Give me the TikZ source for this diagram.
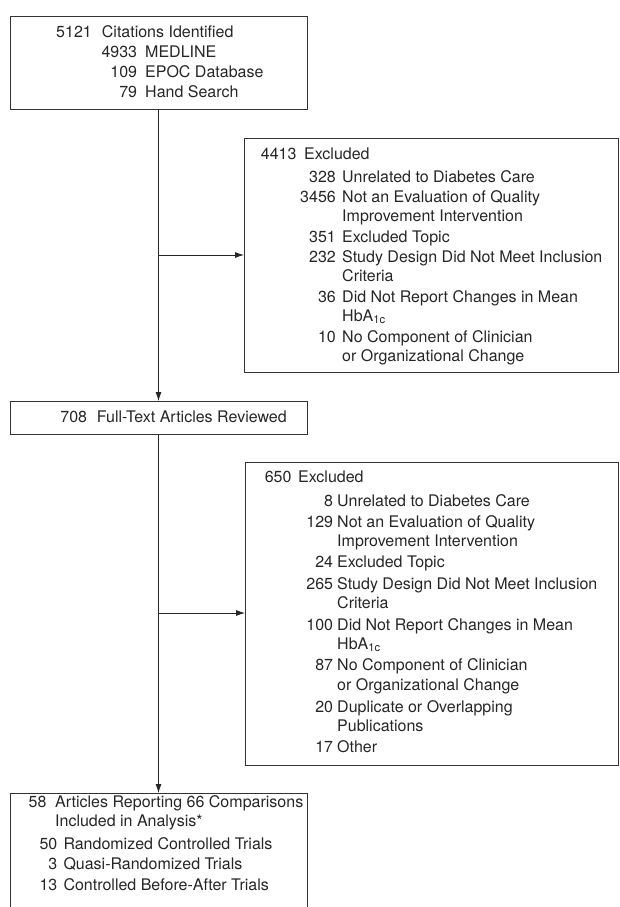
\documentclass[tikz,border=0pt]{standalone}
\usepackage{fontspec}
\setmainfont{TeX Gyre Heros}
\usetikzlibrary{arrows.meta}
\begin{document}
\begin{tikzpicture}[x=1pt,y=-1pt,
  box/.style={draw=black!80, line width=0.8pt, anchor=north west, inner sep=0pt, outer sep=0pt},
  num/.style={anchor=base east, inner sep=0pt, font=\fontsize{16}{18}\selectfont, text=black!85},
  txt/.style={anchor=base west, inner sep=0pt, font=\fontsize{16}{18}\selectfont, text=black!85},
  conn/.style={draw=black!85, line width=0.8pt},
  arr/.style={conn, -{Latex[length=9pt,width=6pt]}}]
\useasboundingbox (0,0) rectangle (619,907);
\clip (0,0) rectangle (619,907);
% boxes
\node[box, minimum width=297pt, minimum height=93pt] (b1) at (10,16) {};
\node[box, minimum width=374pt, minimum height=234pt] (e1) at (244,138) {};
\node[box, minimum width=297pt, minimum height=33pt] (b2) at (10,401) {};
\node[box, minimum width=373pt, minimum height=303pt] (e2) at (245,462) {};
\node[box, minimum width=297pt, minimum height=150pt] (b3) at (10,793) {};
% connectors
\coordinate (j1) at (158.5,255);
\coordinate (j2) at (158.5,613);
\draw[arr] (b1.south) -- (b2.north);
\draw[arr] (j1) -- (j1 -| e1.west);
\draw[arr] (b2.south) -- (b3.north);
\draw[arr] (j2) -- (j2 -| e2.west);
% box 1 text
\node[num] (n11) at (92,37.5) {5121};
\node[txt] (t11) at (101.7,37.5) {Citations Identified};
\node[num] (n12) at (137.3,57.5) {4933};
\node[txt] (t12) at (145,57.5) {MEDLINE};
\node[num] (n13) at (137.3,77.5) {109};
\node[txt] (t13) at (145,77.5) {EPOC Database};
\node[num] (n14) at (137.3,97.5) {79};
\node[txt] (t14) at (145,97.5) {Hand Search};
% excluded 1
\node[num] (m10) at (296.7,159) {4413};
\node[txt] (u10) at (304,159) {Excluded};
\node[num] (m11) at (336,182.5) {328};
\node[txt] (u11) at (342,182.5) {Unrelated to Diabetes Care};
\node[num] (m12) at (336,202.5) {3456};
\node[txt] (u12) at (342,202.5) {Not an Evaluation of Quality};
\node[txt] (u12b) at (342,221) {Improvement Intervention};
\node[num] (m13) at (336,242) {351};
\node[txt] (u13) at (342,242) {Excluded Topic};
\node[num] (m14) at (336,262.5) {232};
\node[txt] (u14) at (342,262.5) {Study Design Did Not Meet Inclusion};
\node[txt] (u14b) at (342,281) {Criteria};
\node[num] (m15) at (336,302.5) {36};
\node[txt] (u15) at (342,302.5) {Did Not Report Changes in Mean};
\node[txt] (u15b) at (342,321) {HbA\textsubscript{1c}};
\node[num] (m16) at (336,342.5) {10};
\node[txt] (u16) at (342,342.5) {No Component of Clinician};
\node[txt] (u16b) at (342,361) {or Organizational Change};
% box 2
\node[num] (n21) at (87.3,422) {708};
\node[txt] (t21) at (96.7,422) {Full-Text Articles Reviewed};
% excluded 2
\node[num] (m20) at (291.7,482.5) {650};
\node[txt] (u20) at (298,482.5) {Excluded};
\node[num] (m21) at (333.3,506) {8};
\node[txt] (u21) at (337,506) {Unrelated to Diabetes Care};
\node[num] (m22) at (333.3,527.5) {129};
\node[txt] (u22) at (337,527.5) {Not an Evaluation of Quality};
\node[txt] (u22b) at (337,546) {Improvement Intervention};
\node[num] (m23) at (333.3,567.5) {24};
\node[txt] (u23) at (337,567.5) {Excluded Topic};
\node[num] (m24) at (333.3,589) {265};
\node[txt] (u24) at (337,589) {Study Design Did Not Meet Inclusion};
\node[txt] (u24b) at (337,608) {Criteria};
\node[num] (m25) at (333.3,630) {100};
\node[txt] (u25) at (337,630) {Did Not Report Changes in Mean};
\node[txt] (u25b) at (337,649) {HbA\textsubscript{1c}};
\node[num] (m26) at (333.3,670.5) {87};
\node[txt] (u26) at (337,670.5) {No Component of Clinician};
\node[txt] (u26b) at (337,690) {or Organizational Change};
\node[num] (m27) at (333.3,712) {20};
\node[txt] (u27) at (337,712) {Duplicate or Overlapping};
\node[txt] (u27b) at (337,731.5) {Publications};
\node[num] (m28) at (333.3,752.5) {17};
\node[txt] (u28) at (337,752.5) {Other};
% box 3
\node[num] (n31) at (46.7,807) {58};
\node[txt] (t31) at (55,807) {Articles Reporting 66 Comparisons};
\node[txt] (t31b) at (55,826) {Included in Analysis*};
\node[num] (n32) at (57.5,849) {50};
\node[txt] (t32) at (63.3,849) {Randomized Controlled Trials};
\node[num] (n33) at (57.5,869.5) {3};
\node[txt] (t33) at (63.3,869.5) {Quasi-Randomized Trials};
\node[num] (n34) at (57.5,890) {13};
\node[txt] (t34) at (63.3,890) {Controlled Before-After Trials};
\end{tikzpicture}
\end{document}
